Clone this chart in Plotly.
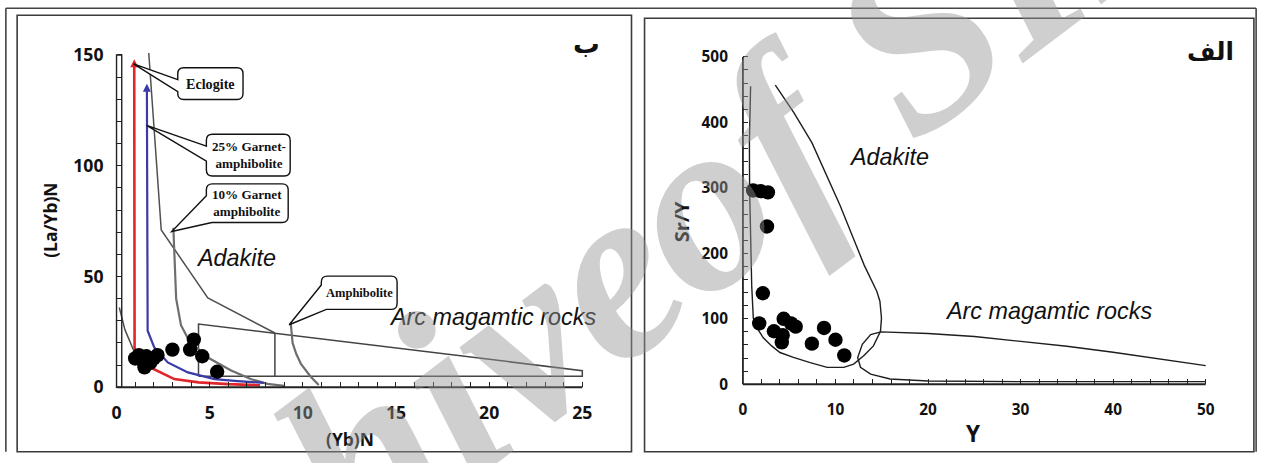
import plotly.graph_objects as go

W, H = 1263, 463

# ---- samples: (Yb)N vs (La/Yb)N ----
yb_n = [1.0, 1.2, 1.5, 1.6, 1.8, 2.0, 2.2, 1.4, 3.0, 3.95, 4.15, 4.6, 5.4]
la_yb_n = [13.0, 14.5, 9.0, 14.0, 11.0, 13.0, 14.5, 12.0, 17.0, 17.0, 21.5, 14.0, 7.0]

# ---- samples: Y vs Sr/Y ----
y_ppm = [1.1, 1.9, 2.7, 2.6, 2.15, 1.76, 4.4, 3.35, 4.2, 4.3, 5.2, 5.7, 7.45, 8.76, 10.0, 10.95]
sr_y = [296, 295, 293, 241, 139, 93, 100, 81, 64, 75, 93, 88, 62, 86, 68, 44]

# ---- melting trends, (Yb)N - (La/Yb)N diagram ----
eclogite_x = [0.95, 0.95, 0.97, 1.05, 1.35, 1.85, 2.5, 3.1, 4.4, 6.0, 7.7]
eclogite_y = [146, 60, 18.0, 13.5, 10.5, 8.8, 6.0, 3.7, 2.2, 1.4, 0.9]
garnet25_x = [1.63, 1.63, 1.67, 2.03, 2.75, 3.83, 5.26, 6.5, 7.9]
garnet25_y = [135, 40, 25.5, 17.9, 11.2, 6.7, 3.7, 2.8, 2.0]
garnet10_x = [3.05, 3.12, 3.2, 3.46, 3.9, 4.9, 6.15, 7.2, 8.1, 9.0]
garnet10_y = [72, 55, 40, 28, 21, 13.4, 7.6, 3.7, 1.5, 0.6]
amphib_x = [9.35, 9.4, 9.45, 9.65, 9.9, 10.4, 10.85]
amphib_y = [29, 24, 20, 15, 10.5, 5, 1.0]

# ---- field boundaries, (Yb)N - (La/Yb)N diagram ----
adakite_upper_x = [1.73, 2.4, 4.9, 8.5]
adakite_upper_y = [150.9, 71, 40.3, 24.5]
adakite_lower_x = [0.15, 0.45, 0.9, 1.25]
adakite_lower_y = [36, 26, 17, 13]
arc_field_x = [4.4, 4.4, 25.0, 25.0, 4.4]
arc_field_y = [5.0, 28.5, 7.5, 5.0, 5.0]
arc_divide_x = [8.5, 8.5]
arc_divide_y = [5.0, 24.3]

# ---- field boundaries, Y - Sr/Y diagram ----
adakite_b_x = [0.83, 0.75, 0.7, 0.72, 0.8, 0.95, 1.12, 1.3, 2.2, 3.1, 4.0, 5.46, 7.27,
               9.1, 10.9, 11.96, 13.05, 14.1, 14.86, 14.97, 14.8, 14.46, 13.1, 10.5,
               7.45, 5.5, 3.5]
adakite_b_y = [455, 420, 370, 300, 220, 150, 101, 91, 71, 58.6, 48.5, 41, 33,
               25.8, 25.8, 30.8, 43.4, 58.6, 81, 101, 126.8, 142, 182, 273,
               369, 415, 457]
arc_b_x = [50, 45, 40, 35, 30, 25, 20, 14.9, 13.8, 12.9, 12.4, 12.7, 13.8, 15.9,
           20, 30, 50]
arc_b_y = [28.5, 39, 49, 58, 66, 73, 77.5, 80, 76, 61, 41, 26, 15.6, 8,
           5, 4, 4]

# ---- axis ticks ----
left_x_ticks = [0, 5, 10, 15, 20, 25]
left_y_ticks = [0, 50, 100, 150]
right_x_ticks = [0, 10, 20, 30, 40, 50]
right_y_ticks = [0, 100, 200, 300, 400, 500]

# layout grid (pixels) of the two diagrams
L_X0, L_XU, L_Y0, L_YU = 119, 18.56, 390, 2.233
R_X0, R_XU, R_Y0, R_YU = 743, 9.22, 387, 0.66
L_XR, L_YR = [0, 25.2], [0, 152]
R_XR, R_YR = [0, 50.5], [0, 505]

# layout grid -> page pixels
GX, GY, G0 = 1279 / 1263, 479 / 463, 8.0
FS = 1.025  # text size factor on the page


def px(x):
    return min(max((x * GX - G0) / W, 0.0007), 0.9993)


def py(y):
    return min(max(1 - (y * GY - G0) / H, 0.0007), 0.9993)


def fs(size):
    return round(size * FS, 2)


fig = go.Figure()

A1 = ("x", "y")
A2 = ("x2", "y2")


def line(x, y, color, width, axes):
    fig.add_trace(go.Scatter(x=x, y=y, mode="lines", xaxis=axes[0], yaxis=axes[1],
                             line=dict(color=color, width=width),
                             hoverinfo="skip", showlegend=False))


line(adakite_upper_x, adakite_upper_y, "#505050", 1.5, A1)
line(adakite_lower_x, adakite_lower_y, "#505050", 1.5, A1)
line(arc_field_x, arc_field_y, "#444444", 1.5, A1)
line(arc_divide_x, arc_divide_y, "#444444", 1.5, A1)
line(garnet10_x, garnet10_y, "#6e6e6e", 2.2, A1)
line(amphib_x, amphib_y, "#6e6e6e", 2.2, A1)
line(garnet25_x, garnet25_y, "#3a3aa8", 2.2, A1)
line(eclogite_x, eclogite_y, "#e0262a", 2.6, A1)

# arrow heads at the top of the two trends
fig.add_trace(go.Scatter(x=[eclogite_x[0], garnet25_x[0]], y=[eclogite_y[0] + 2, garnet25_y[0] + 2],
                         mode="markers", xaxis="x", yaxis="y", cliponaxis=False,
                         marker=dict(symbol="arrow-up", size=8,
                                     color=["#e0262a", "#3a3aa8"]),
                         hoverinfo="skip", showlegend=False))

fig.add_trace(go.Scatter(x=yb_n, y=la_yb_n, mode="markers", xaxis="x", yaxis="y",
                         cliponaxis=False,
                         marker=dict(color="black", size=14.4, line=dict(width=0)),
                         hoverinfo="skip", showlegend=False))

line(adakite_b_x, adakite_b_y, "#1e1e1e", 1.4, A2)
line(arc_b_x, arc_b_y, "#1e1e1e", 1.4, A2)
fig.add_trace(go.Scatter(x=y_ppm, y=sr_y, mode="markers", xaxis="x2", yaxis="y2",
                         cliponaxis=False,
                         marker=dict(color="black", size=14.4, line=dict(width=0)),
                         hoverinfo="skip", showlegend=False))

TICKFONT_L = dict(family="Open Sans", size=fs(17.2), color="#111", weight="bold")
TICKFONT_R = dict(family="Open Sans", size=fs(15), color="#111", weight="bold")


def xaxis(x0, xu, xr, ticks, dt_minor, font, anchor, standoff):
    return dict(domain=[px(x0 + xr[0] * xu), px(x0 + xr[1] * xu)], range=xr,
                anchor=anchor, showgrid=False, zeroline=False, showline=False,
                tickvals=ticks, ticks="inside", ticklen=5, tickwidth=1.3,
                tickcolor="#222", tickfont=font, ticklabelstandoff=standoff,
                minor=dict(dtick=dt_minor, tick0=0, ticks="inside", ticklen=5,
                           tickwidth=1.2, tickcolor="#222"),
                fixedrange=True)


def yaxis(y0, yu, yr, ticks, dt_minor, font, anchor, standoff):
    return dict(domain=[py(y0 - yr[0] * yu), py(y0 - yr[1] * yu)], range=yr,
                anchor=anchor, showgrid=False, zeroline=False, showline=False,
                tickvals=ticks, ticks="inside", ticklen=5, tickwidth=1.3,
                tickcolor="#222", tickfont=font, ticklabelstandoff=standoff,
                minor=dict(dtick=dt_minor, tick0=0, ticks="inside", ticklen=5,
                           tickwidth=1.2, tickcolor="#222"),
                fixedrange=True)


shapes = []


def frame(x0, y0, x1, y1, color="#333", width=1.6):
    shapes.append(dict(type="rect", xref="paper", yref="paper", x0=px(x0), x1=px(x1),
                       y0=py(y1), y1=py(y0), line=dict(color=color, width=width),
                       fillcolor="rgba(0,0,0,0)", layer="below"))


def seg(x0, y0, x1, y1, color="#333", width=1.6):
    shapes.append(dict(type="line", xref="paper", yref="paper", x0=px(x0), x1=px(x1),
                       y0=py(y0), y1=py(y1), line=dict(color=color, width=width),
                       layer="below"))


# outer border and the two panel frames
seg(0, 5.5, W, 5.5, "#444", 1.6)
seg(4, 5.5, 4, H, "#444", 1.6)
seg(1258, 5.5, 1258, H, "#444", 1.6)
frame(20, 15, 632, 457, "#3c3c3c", 1.6)
frame(645, 18, 1252, 460, "#3c3c3c", 1.6)


def dom(v, r):
    return (v - r[0]) / (r[1] - r[0])


# axis lines in domain units so they are not clipped at the plot edge
shapes.append(dict(type="line", xref="x domain", yref="y domain", x0=0, x1=dom(25, L_XR),
                   y0=0, y1=0, line=dict(color="#222", width=2)))
shapes.append(dict(type="rect", xref="x domain", yref="y domain", x0=0, x1=dom(0.28, L_XR),
                   y0=0, y1=dom(150, L_YR), line=dict(color="#222", width=1.4)))
shapes.append(dict(type="line", xref="x2 domain", yref="y2 domain", x0=0, x1=dom(50, R_XR),
                   y0=0, y1=0, line=dict(color="#222", width=2)))
shapes.append(dict(type="line", xref="x2 domain", yref="y2 domain", x0=0, x1=0,
                   y0=0, y1=dom(500, R_YR), line=dict(color="#222", width=1.8)))


def callout(x0, y0, x1, y1, ya, b, tip, r=6):
    """Rounded box with a wedge pointer; ya on the left edge, b=('left', y) or ('bottom', x)."""
    P = lambda x, y: f"{px(x):.5f},{py(y):.5f}"
    d = f"M{P(x0, ya)} L{P(*tip)} "
    if b[0] == "left":
        d += f"L{P(x0, b[1])} L{P(x0, y1 - r)} Q{P(x0, y1)} {P(x0 + r, y1)} "
    else:
        d += f"L{P(b[1], y1)} "
    d += (f"L{P(x1 - r, y1)} Q{P(x1, y1)} {P(x1, y1 - r)} L{P(x1, y0 + r)} "
          f"Q{P(x1, y0)} {P(x1 - r, y0)} L{P(x0 + r, y0)} Q{P(x0, y0)} {P(x0, y0 + r)} Z")
    shapes.append(dict(type="path", xref="paper", yref="paper", path=d,
                       fillcolor="white", line=dict(color="#111", width=1.4), layer="above"))


callout(180, 68, 245, 100, 80, ("left", 92), (136, 64))
callout(208.5, 135, 292, 177, 147, ("left", 162), (149, 126))
callout(208.5, 185, 290, 224, 197, ("bottom", 214), (174, 233))
callout(323, 278, 398.5, 311.5, 287, ("bottom", 328), (291, 327))

annotations = []


def text(x, y, s, font, angle=0, xanchor="center"):
    annotations.append(dict(x=px(x), y=py(y), xref="paper", yref="paper", text=s,
                            showarrow=False, font=font, textangle=angle,
                            xanchor=xanchor, yanchor="middle"))


SERIF = dict(family="Liberation Serif", size=fs(12.8), color="#111", weight="bold")
text(212.5, 84, "Eclogite", dict(SERIF, size=fs(13.8)))
text(250.5, 156, "25% Garnet-<br>amphibolite", SERIF)
text(249, 204.5, "10% Garnet<br>amphibolite", SERIF)
text(361, 295, "Amphibolite", dict(SERIF, size=fs(12.2)))

ITAL = dict(family="Liberation Sans", size=fs(22.8), color="#111", style="italic")
text(238, 260, "Adakite", ITAL)
text(494, 319, "Arc magamtic rocks", ITAL)
text(889, 158, "Adakite", ITAL)
text(1047, 313, "Arc magamtic rocks", ITAL)

TITLE = dict(family="Open Sans", size=fs(17), color="#111", weight="bold")
text(52, 222, "(La/Yb)N", TITLE, angle=-90)
text(352, 442, "(Yb)N", TITLE)
text(682, 223, "Sr/Y", dict(TITLE, size=fs(19.5)), angle=-90)
text(973, 437, "Y", dict(TITLE, size=fs(22)))

ARAB = dict(family="DejaVu Sans", size=fs(26), color="#111", weight="bold")
text(587, 44, "ب", ARAB)
text(1209, 52, "الف", dict(ARAB, size=fs(24)))

# archive watermark laid over both panels
WM = dict(family="Liberation Serif", size=250, color="rgb(150,150,150)",
          weight="bold", style="italic")
for s, (cx, cy) in (("Archive", (327, 490)), ("of SID", (920, 34))):
    annotations.append(dict(x=px(cx), y=1 - (cy * GY - G0) / H, xref="paper", yref="paper",
                            text=s, showarrow=False, textangle=-37, font=WM,
                            opacity=0.45, xanchor="center", yanchor="middle"))

fig.update_layout(
    width=W, height=H, autosize=False,
    margin=dict(l=0, r=0, t=0, b=0, pad=0),
    paper_bgcolor="white", plot_bgcolor="rgba(0,0,0,0)",
    showlegend=False,
    xaxis=xaxis(L_X0, L_XU, L_XR, left_x_ticks, 1, TICKFONT_L, "y", 13),
    yaxis=yaxis(L_Y0, L_YU, L_YR, left_y_ticks, 10, TICKFONT_L, "x", 12),
    xaxis2=xaxis(R_X0, R_XU, R_XR, right_x_ticks, 2, TICKFONT_R, "y2", 14),
    yaxis2=yaxis(R_Y0, R_YU, R_YR, right_y_ticks, 20, TICKFONT_R, "x2", 14),
    shapes=shapes,
    annotations=annotations,
)

fig.write_html("out.html")
